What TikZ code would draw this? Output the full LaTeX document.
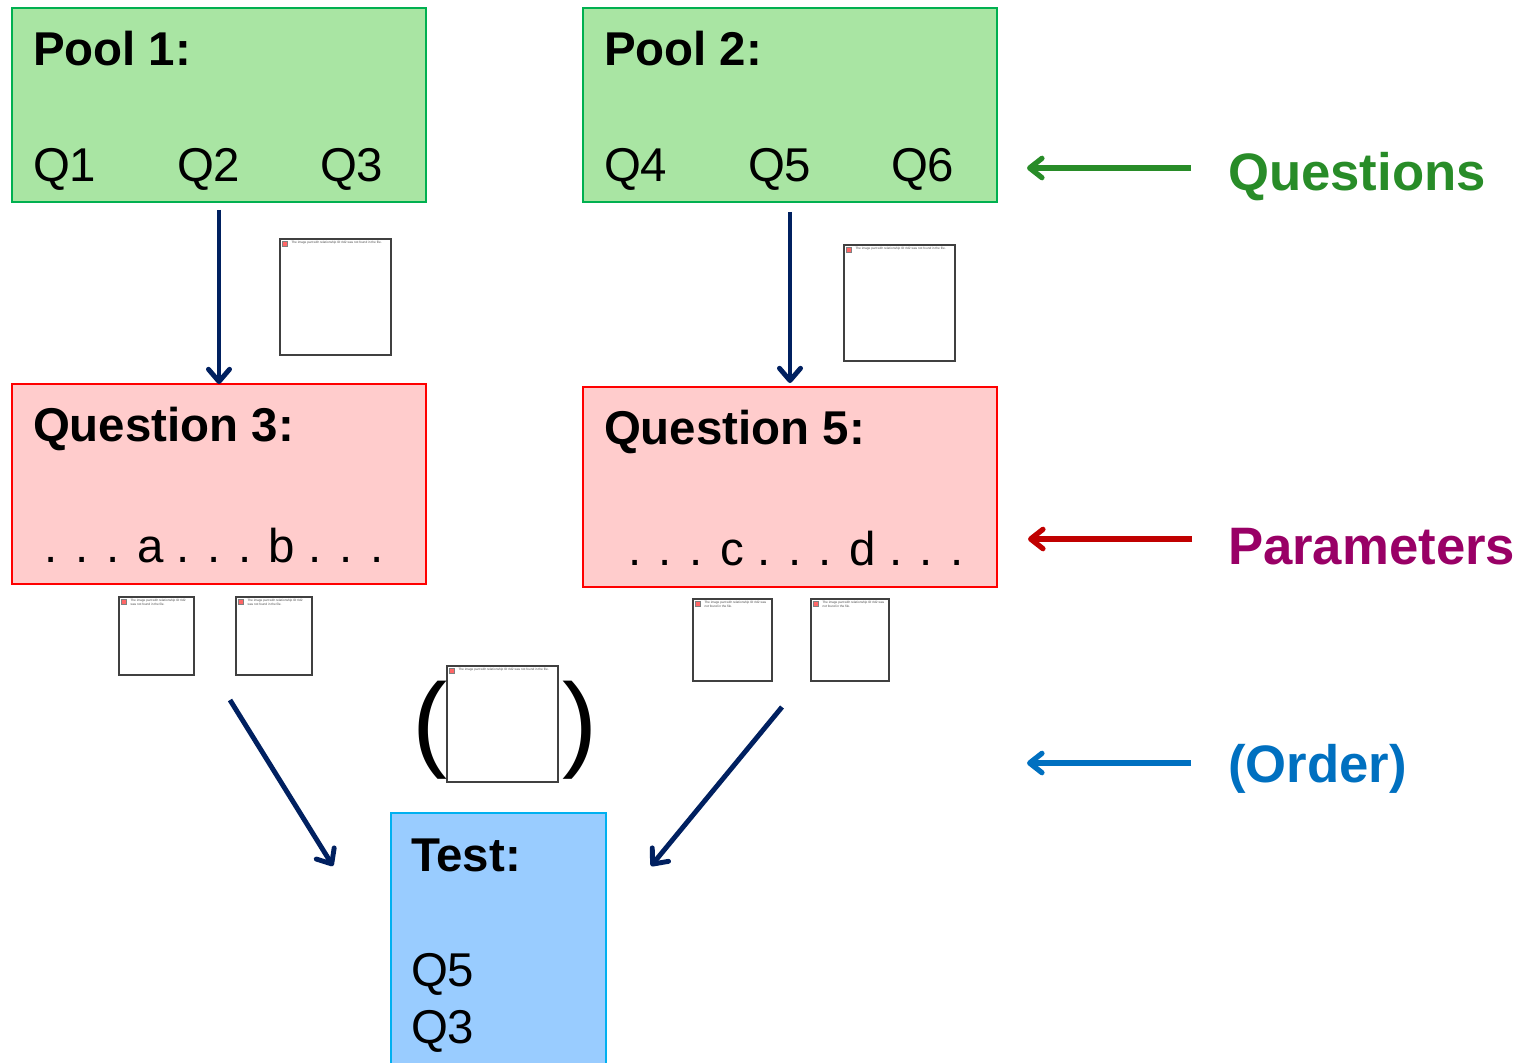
\documentclass[tikz,border=0pt]{standalone}
\usepackage{fontspec}
\setmainfont{Liberation Sans}
\usetikzlibrary{positioning, arrows.meta}
\definecolor{poolfill}{RGB}{169,229,163}
\definecolor{poolline}{RGB}{0,176,80}
\definecolor{parfill}{RGB}{255,204,204}
\definecolor{parline}{RGB}{255,0,0}
\definecolor{testfill}{RGB}{153,204,255}
\definecolor{testline}{RGB}{0,176,240}
\definecolor{navy}{RGB}{0,32,96}
\definecolor{qgreen}{RGB}{40,140,40}
\definecolor{pred}{RGB}{192,0,0}
\definecolor{pmagenta}{RGB}{153,0,102}
\definecolor{oblue}{RGB}{0,112,192}
\tikzset{
    every node/.style={inner sep=0pt, outer sep=0pt}, % boxes end exactly at their border
    box/.style={draw, line width=1.1pt, minimum width=8.28cm}, % the big coloured boxes
    poolbox/.style={box, draw=poolline, fill=poolfill, minimum height=3.88cm},
    parbox/.style={box, draw=parline, fill=parfill, minimum height=4cm},
    testbox/.style={box, draw=testline, fill=testfill, minimum width=4.3cm, minimum height=5.34cm},
    title/.style={anchor=base west, font=\fontsize{27}{32}\selectfont\bfseries},
    item/.style={anchor=base west, font=\fontsize{27}{32}\selectfont},
    dots/.style={anchor=base, font=\fontsize{27}{32}\selectfont},
    side/.style={anchor=base west, font=\fontsize{30}{36}\selectfont\bfseries},
    picbox/.style={draw=black!75, line width=0.6pt, fill=white}, % missing picture frame
    pictext/.style={anchor=north west, align=left, font=\fontsize{1.8}{2.2}\selectfont, text=black!70},
    picicon/.style={draw=black!50, fill=red!60, line width=0.2pt, minimum size=0.1cm, anchor=north west},
    flow/.style={draw=navy, line width=2.8pt, -{Straight Barb[length=7pt,width=12pt,round]}},
    hint/.style={line width=3pt, -{Straight Barb[length=7pt,width=11pt,round]}},
}
\newcommand{\nopic}[5]{% name, centre, width, height, text
  \node[picbox, minimum width=#3, minimum height=#4] (#1) at #2 {};
  \node[picicon] (#1icon) at ([xshift=0.05cm, yshift=-0.05cm]#1.north west) {};
  \node[pictext, right=0.08cm of #1icon.north east, anchor=north west] (#1text) {#5};
}

\begin{document}
\begin{tikzpicture}[x=0.02cm, y=-0.02cm]
  \useasboundingbox (0,0) rectangle (1534,1062);
  % pools of questions
  \node[poolbox] (pool1) at (219,105) {};
  \node[poolbox] (pool2) at (790,105) {};
  \node[title] (pool1title) at (33,65) {Pool 1:};
  \node[title] (pool2title) at (604,65) {Pool 2:};
  \node[item] (q1) at (33,181) {Q1};
  \node[item] (q2) at (177,181) {Q2};
  \node[item] (q3) at (320,181) {Q3};
  \node[item] (q4) at (604,181) {Q4};
  \node[item] (q5) at (748,181) {Q5};
  \node[item] (q6) at (891,181) {Q6};
  % chosen questions with their parameters
  \node[parbox] (quest3) at (219,484) {};
  \node[parbox] (quest5) at (790,487) {};
  \node[title] (quest3title) at (33,441) {Question 3:};
  \node[title] (quest5title) at (604,444) {Question 5:};
  \node[dots] (ab) at (214,562) {. . . a . . . b . . .};
  \node[dots] (cd) at (796,565) {. . . c . . . d . . .};
  % the test
  \node[testbox] (test) at (498.5,946.5) {};
  \node[title] (testtitle) at (411,871) {Test:};
  \node[item] (t5) at (411,986) {Q5};
  \node[item] (t3) at (411,1043) {Q3};
  % missing pictures
  \nopic{picA}{(335.5,297)}{2.22cm}{2.32cm}{The image part with relationship ID rId2 was not found in the file.}
  \nopic{picB}{(899.5,303)}{2.22cm}{2.32cm}{The image part with relationship ID rId2 was not found in the file.}
  \nopic{picC}{(156.5,636)}{1.5cm}{1.56cm}{The image part with relationship ID rId2\\was not found in the file.}
  \nopic{picD}{(274,636)}{1.52cm}{1.56cm}{The image part with relationship ID rId2\\was not found in the file.}
  \nopic{picE}{(732.5,640)}{1.58cm}{1.64cm}{The image part with relationship ID rId2 was\\not found in the file.}
  \nopic{picF}{(850,640)}{1.56cm}{1.64cm}{The image part with relationship ID rId2 was\\not found in the file.}
  \nopic{picG}{(502.5,724)}{2.22cm}{2.32cm}{The image part with relationship ID rId2 was not found in the file.}
  \node[font=\fontsize{60}{72}\selectfont] (lparen) at (430,730) {(};
  \node[font=\fontsize{60}{72}\selectfont] (rparen) at (580,730) {)};
  % flow
  \coordinate (fromL) at (230,700);
  \coordinate (toL) at (333,866);
  \coordinate (fromR) at (782,707);
  \coordinate (toR) at (651,866);
  \draw[flow, shorten <=0.16cm] (pool1.south) -- (quest3.north);
  \draw[flow, shorten <=0.2cm, shorten >=0.08cm] (pool2.south) -- (quest5.north);
  \draw[flow] (fromL) -- (toL);
  \draw[flow] (fromR) -- (toR);
  % side labels
  \node[side, text=qgreen] (questions) at (1228,190) {Questions};
  \node[side, text=pmagenta] (parameters) at (1228,564) {Parameters};
  \node[side, text=oblue] (order) at (1228,782) {(Order)};
  \coordinate (qtail) at (1191,168);
  \coordinate (qhead) at (1027,168);
  \coordinate (ptail) at (1192,539);
  \coordinate (phead) at (1028,539);
  \coordinate (otail) at (1191,763);
  \coordinate (ohead) at (1027,763);
  \draw[hint, draw=qgreen] (qtail) -- (qhead);
  \draw[hint, draw=pred] (ptail) -- (phead);
  \draw[hint, draw=oblue] (otail) -- (ohead);
\end{tikzpicture}
\end{document}
